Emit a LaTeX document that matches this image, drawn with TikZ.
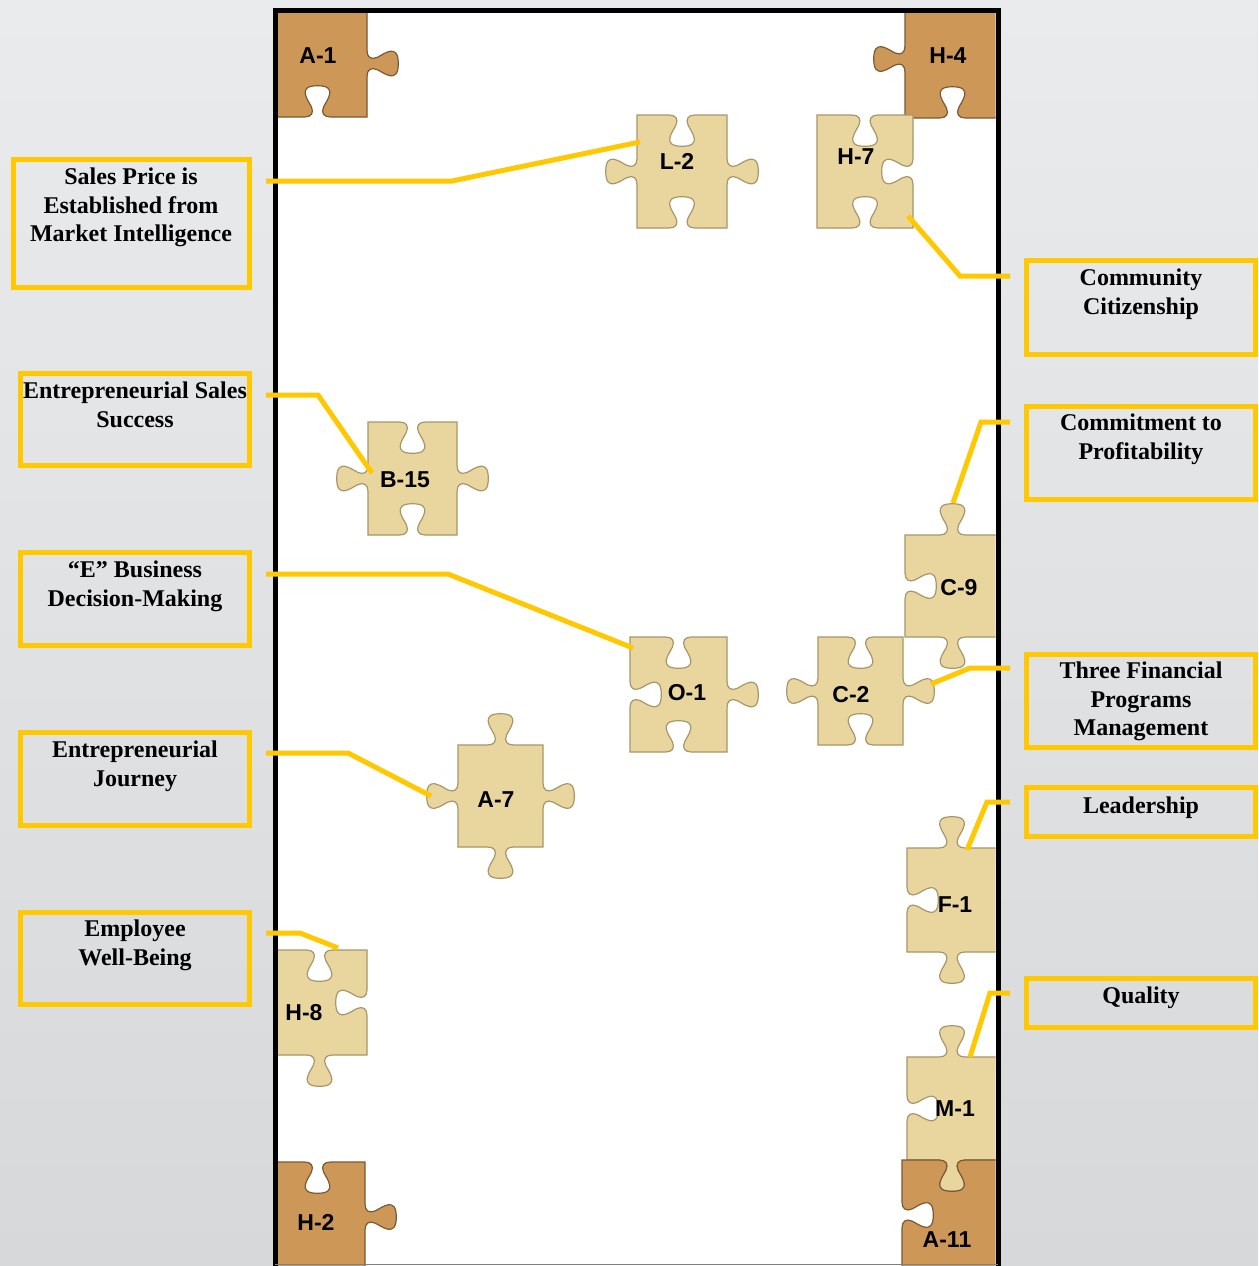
\documentclass[tikz,border=0pt]{standalone}
\usepackage{fontspec}
\setmainfont{Liberation Serif}
\newfontfamily\lblfont{Liberation Sans}
\usetikzlibrary{calc}

\definecolor{ygold}{HTML}{FFC800}
\definecolor{pale}{HTML}{E9D69E}
\definecolor{cork}{HTML}{CD9758}
\definecolor{paleedge}{HTML}{A8966A}
\definecolor{corkedge}{HTML}{7A5A35}
\definecolor{bgtop}{HTML}{E9EBEC}
\definecolor{bgbot}{HTML}{D6D8DA}

\newcommand\kk{34}
\newcommand\PP[2]{(\fpeval{\ex+(\eL/2+(#1)*\kk)*(\edx)+(#2)*\kk*(\es)*(\edy)},\fpeval{\ey+(\eL/2+(#1)*\kk)*(\edy)-(#2)*\kk*(\es)*(\edx)})}
\newcommand\addedge[6]{%
  \def\ex{#1}\def\ey{#2}\def\edx{#3}\def\edy{#4}\def\eL{#5}\def\es{#6}%
  \ifnum#6=0
    \xdef\pth{\pth -- (\fpeval{#1+(#3)*(#5)},\fpeval{#2+(#4)*(#5)})}%
  \else
    \xdef\pth{\pth -- \PP{-0.38}{0} .. controls \PP{-0.18}{0} and \PP{-0.10}{0.12} .. \PP{-0.18}{0.30} .. controls \PP{-0.28}{0.50} and \PP{-0.62}{0.92} .. \PP{0}{0.92} .. controls \PP{0.62}{0.92} and \PP{0.28}{0.50} .. \PP{0.18}{0.30} .. controls \PP{0.10}{0.12} and \PP{0.18}{0} .. \PP{0.38}{0} -- (\fpeval{#1+(#3)*(#5)},\fpeval{#2+(#4)*(#5)})}%
  \fi}
\newcommand\piece[9]{%
  \xdef\pth{(#1,#2)}%
  \addedge{#1}{#2}{1}{0}{#3}{#5}%
  \addedge{\fpeval{#1+#3}}{#2}{0}{1}{#4}{#6}%
  \addedge{\fpeval{#1+#3}}{\fpeval{#2+#4}}{-1}{0}{#3}{#7}%
  \addedge{#1}{\fpeval{#2+#4}}{0}{-1}{#4}{#8}%
  \def\dopath{\path[#9]}%
  \expandafter\dopath\pth -- cycle;}

\tikzset{
  ybox/.style={draw=ygold, line width=5pt, inner sep=0pt},
  btext/.style={anchor=north, align=center, inner sep=0pt, font=\fontsize{24}{28.8}\selectfont\bfseries},
  plabel/.style={inner sep=0pt, font=\lblfont\fontsize{23}{27}\selectfont\bfseries},
  conn/.style={draw=ygold, line width=5pt},
  palepiece/.style={fill=pale, draw=paleedge, line width=1.2pt},
  corkpiece/.style={fill=cork, draw=corkedge, line width=1.2pt},
}

\begin{document}
\begin{tikzpicture}[x=1pt,y=-1pt]
\useasboundingbox (0,0) rectangle (1258,1266);
\shade[top color=bgtop, bottom color=bgbot] (0,0) rectangle (1258,1266);
\fill[white] (275,10) rectangle (998,1266);

% puzzle pieces
\begin{scope}
\clip (277.5,12.5) rectangle (995.5,1266);
\piece{268}{10}{99}{107}{0}{1}{-1}{0}{corkpiece}
\piece{905}{0}{95}{118}{0}{0}{-1}{1}{corkpiece}
\piece{637}{115}{90}{113}{-1}{1}{-1}{1}{palepiece}
\piece{817}{115}{96}{113}{-1}{-1}{-1}{0}{palepiece}
\piece{368}{422}{89}{113}{-1}{1}{-1}{1}{palepiece}
\piece{905}{535}{95}{102}{1}{0}{1}{-1}{palepiece}
\piece{630}{637}{97}{115}{-1}{1}{-1}{-1}{palepiece}
\piece{818}{637}{85}{108}{-1}{1}{-1}{1}{palepiece}
\piece{458}{745}{85}{102}{1}{1}{1}{1}{palepiece}
\piece{907}{848}{90}{104}{1}{0}{1}{-1}{palepiece}
\piece{272}{950}{95}{105}{-1}{-1}{1}{0}{palepiece}
\piece{907}{1057}{90}{103}{1}{0}{1}{-1}{palepiece}
\piece{902}{1160}{100}{110}{-1}{0}{0}{-1}{corkpiece}
\piece{270}{1162}{95}{110}{-1}{1}{0}{0}{corkpiece}
\end{scope}

% piece labels
\node[plabel] (pA1) at (318,56) {A-1};
\node[plabel] (pH4) at (948,56) {H-4};
\node[plabel] (pL2) at (677,161) {L-2};
\node[plabel] (pH7) at (856,157) {H-7};
\node[plabel] (pB15) at (405,480) {B-15};
\node[plabel] (pC9) at (959,588) {C-9};
\node[plabel] (pO1) at (687,693) {O-1};
\node[plabel] (pC2) at (851,695) {C-2};
\node[plabel] (pA7) at (496,800) {A-7};
\node[plabel] (pF1) at (955,905) {F-1};
\node[plabel] (pH8) at (304,1013) {H-8};
\node[plabel] (pM1) at (955,1109) {M-1};
\node[plabel] (pH2) at (316,1222) {H-2};
\node[plabel] (pA11) at (947,1240) {A-11};

% frame
\draw[line width=5pt] (275,1266) -- (275,10) -- (998,10) -- (998,1266);
\draw[gray, line width=1.5pt] (275,1264.5) -- (998,1264.5);

% boxes
\node[ybox, minimum width=236, minimum height=128] (b1) at (131.5,223.5) {};
\node[ybox, minimum width=229, minimum height=92] (b2) at (135,419.5) {};
\node[ybox, minimum width=229, minimum height=93] (b3) at (135,599) {};
\node[ybox, minimum width=229, minimum height=93] (b4) at (135,779) {};
\node[ybox, minimum width=229, minimum height=92] (b5) at (135,958.5) {};
\node[ybox, minimum width=229, minimum height=94] (b6) at (1141,307.5) {};
\node[ybox, minimum width=229, minimum height=93] (b7) at (1141,453) {};
\node[ybox, minimum width=229, minimum height=93] (b8) at (1141,701) {};
\node[ybox, minimum width=229, minimum height=49] (b9) at (1141,812) {};
\node[ybox, minimum width=229, minimum height=49] (b10) at (1141,1003) {};

\node[btext] (t1) at (131,167.5) {Sales Price is\\Established from\\Market Intelligence};
\node[btext] (t2) at (135,381.5) {Entrepreneurial Sales\\Success};
\node[btext] (t3) at (135,560.5) {“E” Business\\Decision-Making};
\node[btext] (t4) at (135,740.5) {Entrepreneurial\\Journey};
\node[btext] (t5) at (135,919.5) {Employee\\Well-Being};
\node[btext] (t6) at (1141,268.5) {Community\\Citizenship};
\node[btext] (t7) at (1141,413.5) {Commitment to\\Profitability};
\node[btext] (t8) at (1141,661.5) {Three Financial\\Programs\\Management};
\node[btext] (t9) at (1141,796.5) {Leadership};
\node[btext] (t10) at (1141,986.5) {Quality};

% connector points
\coordinate (s1) at (266,181);  \coordinate (k1) at (452,181);  \coordinate (e1) at (640,142);
\coordinate (s2) at (266,395);  \coordinate (k2) at (318,395);  \coordinate (e2) at (372,473);
\coordinate (s3) at (266,574);  \coordinate (k3) at (448,574);  \coordinate (e3) at (633,648);
\coordinate (s4) at (266,753);  \coordinate (k4) at (348,753);  \coordinate (e4) at (431,796);
\coordinate (s5) at (266,933);  \coordinate (k5) at (300,933);  \coordinate (e5) at (338,948);
\coordinate (s6) at (1010,276); \coordinate (k6) at (960,276);  \coordinate (e6) at (908,216);
\coordinate (s7) at (1010,422); \coordinate (k7) at (981,422);  \coordinate (e7) at (953,503);
\coordinate (s8) at (1010,668); \coordinate (k8) at (970,668);  \coordinate (e8) at (931,684);
\coordinate (s9) at (1010,802); \coordinate (k9) at (987,802);  \coordinate (e9) at (967,850);
\coordinate (s10) at (1010,993); \coordinate (k10) at (990,993); \coordinate (e10) at (970,1057);

\foreach \i in {1,...,10} {\draw[conn] (s\i) -- (k\i) -- (e\i);}
\end{tikzpicture}
\end{document}
